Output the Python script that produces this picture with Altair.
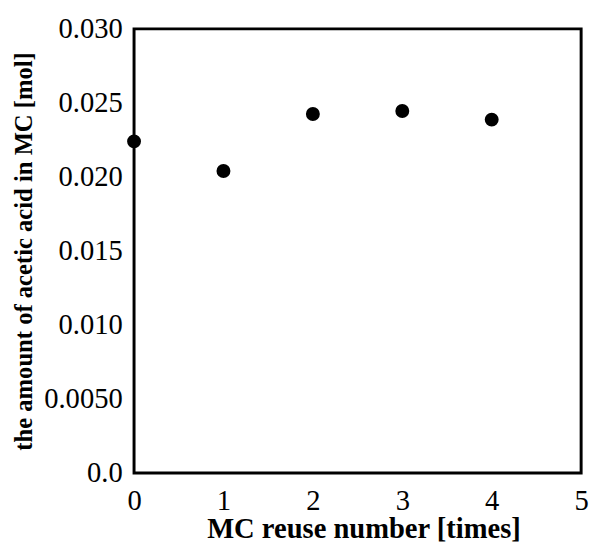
import altair as alt
import pandas as pd

reuse = [0, 1, 2, 3, 4]
acetic = [0.0224, 0.0204, 0.02425, 0.02445, 0.02387]
x_ticks = [0, 1, 2, 3, 4, 5]
y_ticks = [0, 0.005, 0.010, 0.015, 0.020, 0.025, 0.030]

df = pd.DataFrame({"reuse": reuse, "acetic": acetic})

font = "Liberation Serif"

chart = alt.Chart(df).mark_circle(color="black", opacity=1, size=200).encode(
    x=alt.X("reuse:Q",
            scale=alt.Scale(domain=[0, 5], nice=False),
            axis=alt.Axis(title="MC reuse number [times]", values=x_ticks,
                          format="d", grid=False, domain=False, ticks=False,
                          labelFont=font, labelFontSize=29, labelColor="black",
                          labelPadding=14, labelFlush=False,
                          titleFont=font, titleFontSize=29, titleFontWeight="bold",
                          titleColor="black", titlePadding=0, titleX=233)),
    y=alt.Y("acetic:Q",
            scale=alt.Scale(domain=[0, 0.030], nice=False),
            axis=alt.Axis(title="the amount of acetic acid in MC [mol]",
                          values=y_ticks,
                          labelExpr="datum.value == 0 ? '0.0' : (abs(datum.value - 0.005) < 1e-9 ? '0.0050' : format(datum.value, '.3f'))",
                          grid=False, domain=False, ticks=False,
                          labelFont=font, labelFontSize=29, labelColor="black",
                          labelPadding=12, labelFlush=False,
                          titleFont=font, titleFontSize=25, titleFontWeight="bold",
                          titleColor="black", titlePadding=7)),
).properties(
    width=454, height=451,
    padding={"top": 3, "left": 4, "right": 0, "bottom": 0},
).configure(background="white").configure_view(stroke="black", strokeWidth=3)

chart.save("out.html", embed_options={"renderer": "svg", "actions": False})
